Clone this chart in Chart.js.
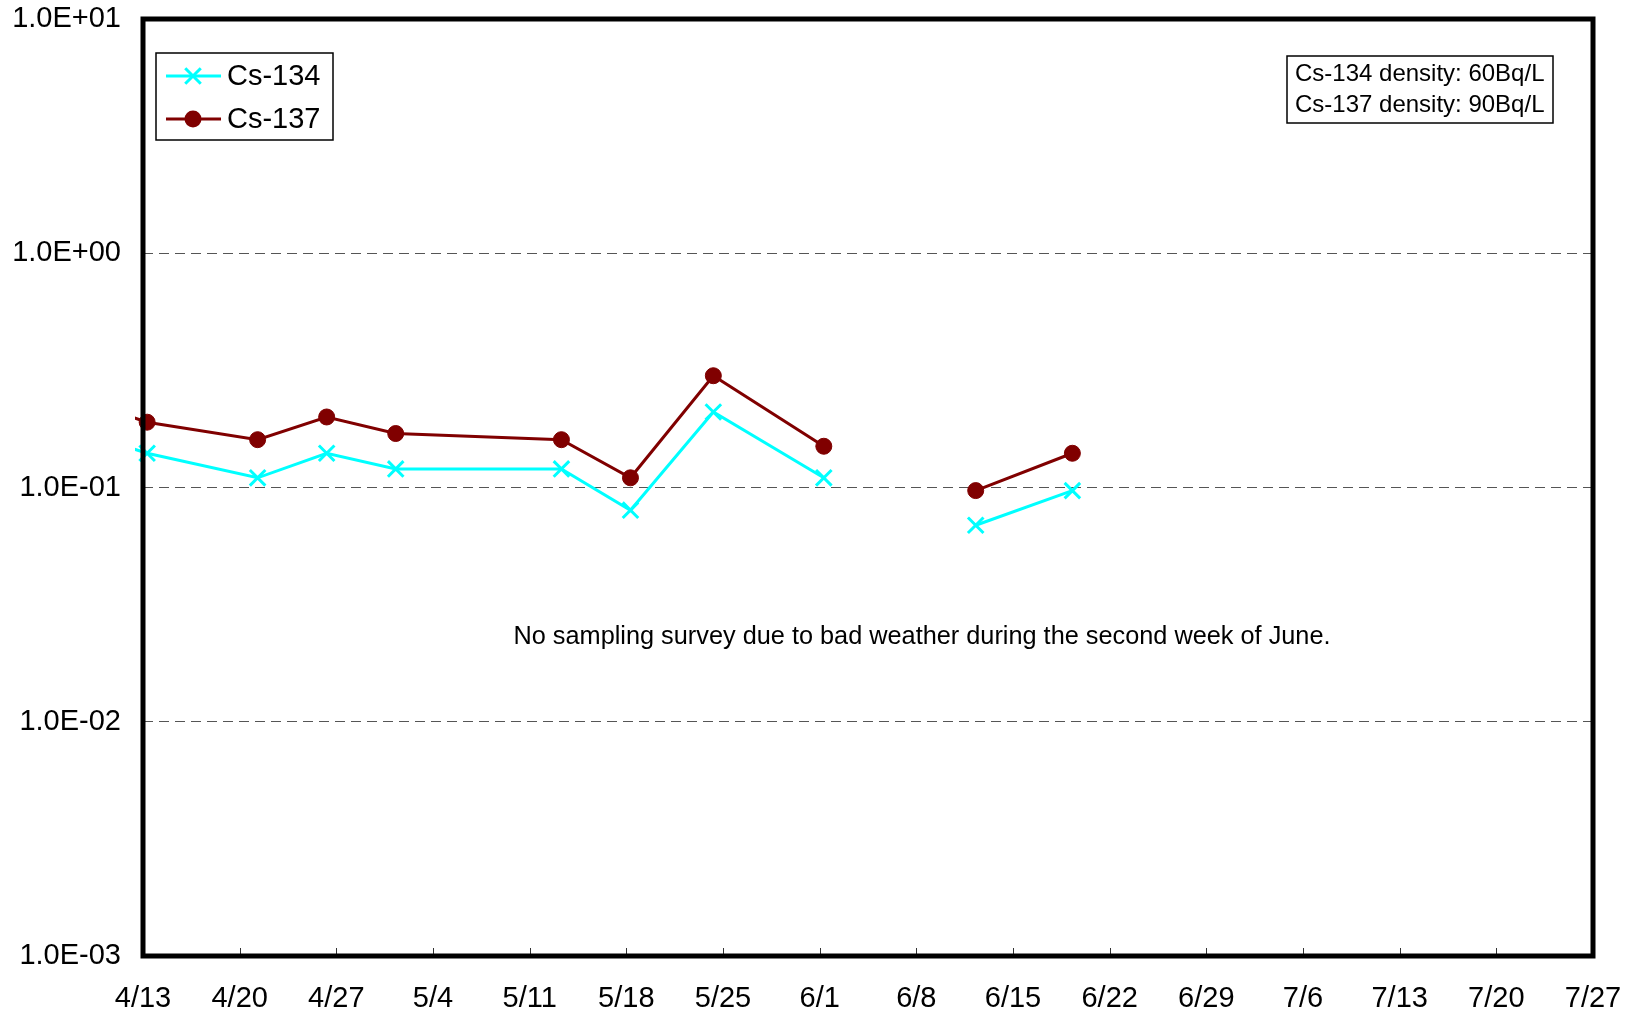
<!doctype html>
<html>
<head>
<meta charset="utf-8">
<title>Cs-134 / Cs-137 chart</title>
<script src="https://cdn.jsdelivr.net/npm/chart.js@4.4.1/dist/chart.umd.min.js"></script>
<style>
  html, body { margin: 0; padding: 0; background: #fff; }
  #wrap { width: 1626px; height: 1015px; position: relative; }
</style>
</head>
<body>
<div id="wrap"><canvas id="chart"></canvas></div>
<script>
// days after 4/13 for each sampling (first one is before the axis start, null = no survey)
var sampleDays = [-6.7, 0.3, 8.3, 13.3, 18.3, 30.3, 35.3, 41.3, 49.3, 56.3, 60.3, 67.3];
var cs134 = [0.19, 0.14, 0.11, 0.14, 0.12, 0.12, 0.08, 0.21, 0.11, null, 0.069, 0.097];
var cs137 = [0.26, 0.19, 0.16, 0.20, 0.17, 0.16, 0.11, 0.30, 0.15, null, 0.097, 0.14];

var xTickLabels = ['4/13', '4/20', '4/27', '5/4', '5/11', '5/18', '5/25', '6/1',
                   '6/8', '6/15', '6/22', '6/29', '7/6', '7/13', '7/20', '7/27'];
var yTickValues = [0.001, 0.01, 0.1, 1, 10];
var yTickLabels = ['1.0E-03', '1.0E-02', '1.0E-01', '1.0E+00', '1.0E+01'];

var densityNotes = ['Cs-134 density: 60Bq/L', 'Cs-137 density: 90Bq/L'];
var gapNote = 'No sampling survey due to bad weather during the second week of June.';

var FONT = '"Liberation Sans", Arial, sans-serif';

function toPoints(values) {
    return sampleDays.map(function (d, i) { return { x: d, y: values[i] }; });
}

var framePlugin = {
    id: 'frame',
    afterDraw: function (chart) {
        var ctx = chart.ctx;
        var a = chart.chartArea;
        var xs = chart.scales.x;
        ctx.save();

        // inward ticks on the x axis
        ctx.strokeStyle = '#333';
        ctx.lineWidth = 1;
        xs.ticks.forEach(function (t) {
            var px = Math.round(xs.getPixelForValue(t.value)) + 0.5;
            ctx.beginPath();
            ctx.moveTo(px, a.bottom);
            ctx.lineTo(px, a.bottom - 8);
            ctx.stroke();
        });

        // thick plot frame
        ctx.strokeStyle = '#000';
        ctx.lineWidth = 5;
        ctx.strokeRect(a.left, a.top, a.right - a.left, a.bottom - a.top);

        // legend box
        var lx = 156, ly = 53, lw = 177, lh = 87;
        ctx.lineWidth = 1.5;
        ctx.fillStyle = '#fff';
        ctx.fillRect(lx, ly, lw, lh);
        ctx.strokeRect(lx, ly, lw, lh);
        ctx.font = '29px ' + FONT;
        ctx.textBaseline = 'middle';
        chart.data.datasets.forEach(function (ds, i) {
            var cy = 76 + i * 43;
            ctx.strokeStyle = ds.borderColor;
            ctx.lineWidth = ds.borderWidth;
            ctx.beginPath();
            ctx.moveTo(166, cy);
            ctx.lineTo(221, cy);
            ctx.stroke();
            var mx = 193;
            if (ds.pointStyle === 'crossRot') {
                var r = ds.pointRadius * 0.707;
                ctx.beginPath();
                ctx.moveTo(mx - r, cy - r); ctx.lineTo(mx + r, cy + r);
                ctx.moveTo(mx - r, cy + r); ctx.lineTo(mx + r, cy - r);
                ctx.stroke();
            } else {
                ctx.fillStyle = ds.pointBackgroundColor;
                ctx.beginPath();
                ctx.arc(mx, cy, ds.pointRadius + 0.5, 0, Math.PI * 2);
                ctx.fill();
            }
            ctx.fillStyle = '#000';
            ctx.textAlign = 'left';
            ctx.fillText(ds.label, 227, cy + 1);
        });

        // density box
        ctx.font = '24px ' + FONT;
        ctx.strokeStyle = '#000';
        ctx.lineWidth = 1.5;
        ctx.strokeRect(1287, 56, 266, 67);
        ctx.fillStyle = '#000';
        ctx.textAlign = 'left';
        densityNotes.forEach(function (s, i) {
            ctx.fillText(s, 1295, 74 + i * 31.5);
        });

        // no-sampling note
        ctx.font = '25.3px ' + FONT;
        ctx.textAlign = 'center';
        ctx.fillText(gapNote, 922, 637);
        ctx.restore();
    }
};

new Chart(document.getElementById('chart'), {
    type: 'line',
    data: {
        datasets: [
            {
                label: 'Cs-134',
                data: toPoints(cs134),
                borderColor: '#00FFFF',
                backgroundColor: '#00FFFF',
                borderWidth: 3,
                pointStyle: 'crossRot',
                pointRadius: 11,
                pointBorderWidth: 3,
                pointBorderColor: '#00FFFF',
                pointBackgroundColor: '#00FFFF',
                spanGaps: false,
                tension: 0,
                clip: { left: 8, top: 0, right: 0, bottom: 0 }
            },
            {
                label: 'Cs-137',
                data: toPoints(cs137),
                borderColor: '#800000',
                backgroundColor: '#800000',
                borderWidth: 3,
                pointStyle: 'circle',
                pointRadius: 8,
                pointBorderWidth: 1,
                pointBorderColor: '#800000',
                pointBackgroundColor: '#800000',
                spanGaps: false,
                tension: 0,
                clip: { left: 8, top: 0, right: 0, bottom: 0 }
            }
        ]
    },
    options: {
        responsive: true,
        maintainAspectRatio: false,
        animation: false,
        layout: { padding: { top: 19, right: 33, left: 0, bottom: 0 } },
        plugins: {
            legend: { display: false },
            tooltip: { enabled: false }
        },
        scales: {
            x: {
                type: 'linear',
                min: 0,
                max: 105,
                afterFit: function (s) {
                    s.height = 59;
                    s.paddingLeft = 0;
                    s.paddingRight = 0;
                },
                grid: { display: false, drawTicks: false },
                border: { display: false },
                ticks: {
                    stepSize: 7,
                    autoSkip: false,
                    maxRotation: 0,
                    padding: 26,
                    color: '#000',
                    font: { family: FONT, size: 29 },
                    callback: function (v, i) { return xTickLabels[i]; }
                }
            },
            y: {
                type: 'logarithmic',
                min: 0.001,
                max: 10,
                afterFit: function (s) {
                    s.width = 143;
                    s.paddingTop = 0;
                    s.paddingBottom = 0;
                },
                afterBuildTicks: function (s) {
                    s.ticks = yTickValues.map(function (v) { return { value: v }; });
                },
                grid: { color: '#555', lineWidth: 1, drawTicks: false },
                border: { display: false, dash: [10, 6] },
                ticks: {
                    padding: 22,
                    color: '#000',
                    font: { family: FONT, size: 29 },
                    callback: function (v, i) { return yTickLabels[i]; }
                }
            }
        }
    },
    plugins: [framePlugin]
});
</script>
</body>
</html>
